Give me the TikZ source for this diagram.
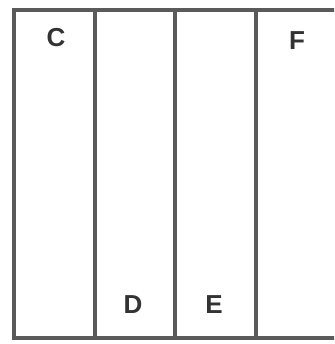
\documentclass[tikz,border=0pt]{standalone}
\usepackage{fontspec}
\newfontfamily\labelfont{LiberationSans-Bold.ttf}
\usetikzlibrary{positioning}
\definecolor{stripgray}{HTML}{5A5A5A}
\tikzset{
  stripline/.style={draw=stripgray,line width=4.8pt},
  striplabel/.style={font=\labelfont\fontsize{26}{26}\selectfont,text=black!80,inner sep=0pt}
}
\begin{document}
\begin{tikzpicture}[x=1pt,y=-1pt]
  \useasboundingbox (0,0) rectangle (334,344);
  \clip (0,0) rectangle (334,344);
  \fill[white] (0,0) rectangle (334,344);
  % outer frame, right side runs off the page
  \draw[stripline] (14,10) rectangle (345,338);
  \foreach \x in {95,175,256} {
    \draw[stripline] (\x,10) -- (\x,338);
  }
  \node[striplabel] (c) at (56,38) {C};
  \node[striplabel] (f) at (297,41) {F};
  \node[striplabel] (d) at (133,305) {D};
  \node[striplabel] (e) at (214,305) {E};
\end{tikzpicture}
\end{document}
